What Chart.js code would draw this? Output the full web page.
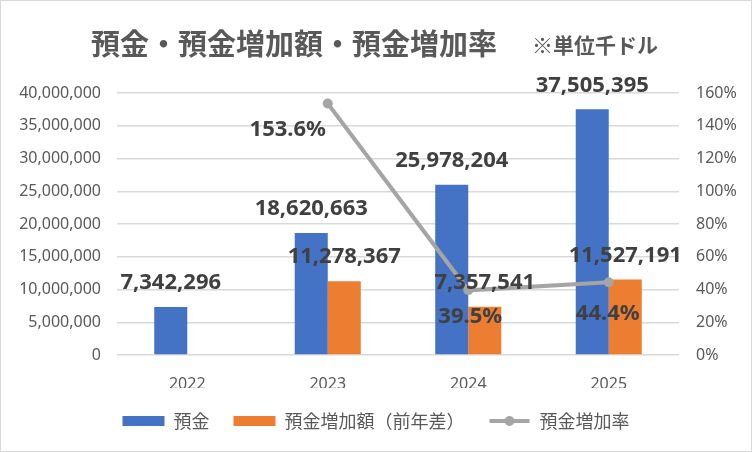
<!DOCTYPE html>
<html>
<head>
<meta charset="utf-8">
<script src="https://cdn.jsdelivr.net/npm/chart.js@4.4.1/dist/chart.umd.min.js"></script>
<style>
  html, body { margin: 0; padding: 0; background: #fff; }
  #wrap { width: 750px; height: 450px; border: 1px solid #d9d9d9; position: relative; }
</style>
</head>
<body>
<div id="wrap"><canvas id="myChart" width="750" height="450"></canvas></div>
<script>
const years = ['2022', '2023', '2024', '2025'];
const deposits = [7342296, 18620663, 25978204, 37505395];
const increase = [null, 11278367, 7357541, 11527191];
const growthRate = [null, 153.6, 39.5, 44.4];

const titleText = '預金・預金増加額・預金増加率';
const unitText = '※単位千ドル';
const jp = '"Noto Sans CJK JP", "Noto Sans", sans-serif';
const num = '"Noto Sans", "Noto Sans CJK JP", sans-serif';

// offsets for the rate labels (Excel put them a bit oddly)
const rateLabelOffset = [[0, 0], [-40, 26], [2, 26], [-1, 31]];

// legend symbol for the line series: line with a dot
const lineIcon = document.createElement('canvas');
lineIcon.width = 44; lineIcon.height = 12;
(function () {
	const c = lineIcon.getContext('2d');
	c.strokeStyle = '#a5a5a5';
	c.lineWidth = 4;
	c.beginPath(); c.moveTo(2, 6); c.lineTo(42, 6); c.stroke();
	c.fillStyle = '#a5a5a5';
	c.beginPath(); c.arc(22, 6, 5, 0, Math.PI * 2); c.fill();
})();

const fmt = (v) => v.toLocaleString('en-US');

const textPlugin = {
	id: 'texts',
	afterDraw(chart) {
		const ctx = chart.ctx;
		ctx.save();
		ctx.fillStyle = '#595959';
		ctx.textBaseline = 'middle';
		ctx.textAlign = 'left';
		ctx.font = 'bold 29px ' + jp;
		ctx.fillText(titleText, 90, 43);
		ctx.font = 'bold 21px ' + jp;
		ctx.fillText(unitText, 531, 44);
		ctx.restore();
	},
	afterDatasetsDraw(chart) {
		const ctx = chart.ctx;
		ctx.save();
		ctx.fillStyle = '#404040';
		ctx.font = 'bold 22px ' + num;
		ctx.textAlign = 'center';
		ctx.textBaseline = 'middle';
		[0, 1].forEach((di) => {
			const meta = chart.getDatasetMeta(di);
			const vals = chart.data.datasets[di].data;
			meta.data.forEach((el, i) => {
				if (vals[i] == null) return;
				ctx.fillText(fmt(vals[i]), el.x, el.y - 24);
			});
		});
		const lmeta = chart.getDatasetMeta(2);
		lmeta.data.forEach((el, i) => {
			if (growthRate[i] == null) return;
			const o = rateLabelOffset[i];
			ctx.fillText(growthRate[i].toFixed(1) + '%', el.x + o[0], el.y + o[1]);
		});
		ctx.restore();
	}
};

new Chart(document.getElementById('myChart'), {
	type: 'bar',
	data: {
		labels: years,
		datasets: [
			{
				label: '預金',
				data: deposits,
				backgroundColor: '#4472c4',
				yAxisID: 'y',
				order: 1,
				categoryPercentage: 0.47,
				barPercentage: 1.0,
			},
			{
				label: '預金増加額（前年差）',
				data: increase,
				backgroundColor: '#ed7d31',
				yAxisID: 'y',
				order: 1,
				categoryPercentage: 0.47,
				barPercentage: 1.0,
			},
			{
				type: 'line',
				label: '預金増加率',
				data: growthRate,
				borderColor: '#a5a5a5',
				backgroundColor: '#a5a5a5',
				borderWidth: 4,
				pointStyle: 'circle',
				pointRadius: 5,
				pointHoverRadius: 5,
				pointBorderWidth: 0,
				yAxisID: 'y2',
				order: 0,
			}
		]
	},
	options: {
		responsive: false,
		animation: false,
		events: [],
		layout: { padding: { top: 92, left: 0, right: 0, bottom: 11 } },
		plugins: {
			title: { display: false },
			tooltip: { enabled: false },
			legend: {
				position: 'bottom',
				labels: {
					usePointStyle: true,
					pointStyleWidth: 42,
					boxHeight: 10,
					padding: 24,
					color: '#595959',
					font: { family: jp, size: 18 },
					generateLabels(chart) {
						return chart.data.datasets.map((ds, i) => ({
							text: ds.label,
							fillStyle: ds.backgroundColor,
							strokeStyle: ds.backgroundColor,
							lineWidth: 0,
							pointStyle: i === 2 ? lineIcon : 'rect',
							fontColor: '#595959',
							hidden: false,
							datasetIndex: i,
						}));
					}
				}
			}
		},
		scales: {
			x: {
				grid: { display: false },
				border: { display: false },
				ticks: { color: '#595959', font: { family: num, size: 16 }, padding: 12 },
				afterFit(scale) { scale.height = 33; }
			},
			y: {
				position: 'left',
				min: 0,
				max: 40000000,
				grid: { color: '#d9d9d9', lineWidth: 1.5, drawTicks: false },
				border: { display: false },
				ticks: {
					stepSize: 5000000,
					color: '#595959',
					font: { family: num, size: 16 },
					padding: 16,
					callback: (v) => fmt(v),
				},
				afterFit(scale) { scale.width = 116; }
			},
			y2: {
				position: 'right',
				min: 0,
				max: 160,
				grid: { display: false, drawTicks: false },
				border: { display: false },
				ticks: {
					stepSize: 20,
					color: '#595959',
					font: { family: num, size: 16 },
					padding: 17,
					callback: (v) => v + '%',
				},
				afterFit(scale) { scale.width = 72; }
			}
		}
	},
	plugins: [textPlugin]
});
</script>
</body>
</html>
